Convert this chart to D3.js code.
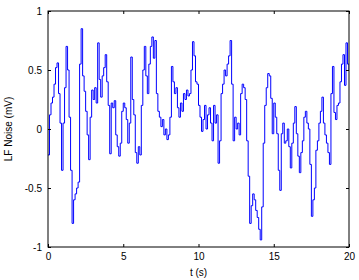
<!DOCTYPE html>
<html>
<head>
<meta charset="utf-8">
<script src="https://cdn.jsdelivr.net/npm/d3@7"></script>
<style>
  html, body { margin: 0; padding: 0; background: #fff; }
</style>
</head>
<body>
<div id="chart"></div>
<script>
const DT = 0.1;
const noise = [
  -0.22, 0.12, 0.22, 0.27, 0.38, 0.52, 0.56, 0.30, 0.05, -0.35,
  0.05, 0.35, 0.70, 0.50, 0.10, -0.35, -0.80, -0.60, -0.55, -0.50,
  -0.45, 0.55, 0.85, 0.45, 0.32, 0.15, -0.05, -0.26, 0.10, 0.33,
  0.25, 0.35, 0.22, 0.73, 0.42, 0.27, 0.45, 0.52, 0.63, 0.40,
  0.20, -0.21, 0.22, 0.18, 0.24, -0.05, -0.15, -0.23, -0.12, 0.15,
  0.22, 0.18, 0.08, -0.12, 0.05, 0.61, 0.25, 0.12, -0.20, -0.29,
  -0.15, -0.22, 0.20, 0.50, 0.70, 0.45, 0.30, 0.55, 0.70, 0.78,
  0.60, 0.75, 0.30, 0.15, 0.10, 0.02, 0.08, -0.05, 0.00, -0.09,
  -0.05, 0.10, 0.53, 0.40, 0.30, 0.35, 0.18, 0.10, 0.22, 0.15,
  0.30, 0.25, 0.33, 0.28, 0.30, 0.50, 0.74, 0.62, 0.40, 0.38,
  0.20, 0.10, -0.02, 0.08, 0.20, 0.00, 0.12, 0.18, 0.05, -0.10,
  0.20, 0.05, 0.12, -0.29, -0.10, 0.30, 0.38, 0.50, 0.45, 0.55,
  0.62, 0.75, 0.38, -0.10, 0.10, 0.00, 0.05, -0.05, 0.30, 0.38,
  0.35, 0.25, -0.10, -0.40, -0.80, -0.65, -0.55, -0.60, -0.69, -0.75,
  -0.85, -0.94, -0.66, -0.12, 0.20, 0.35, 0.47, 0.45, 0.26, -0.04,
  0.22, 0.10, -0.04, -0.35, -0.52, -0.04, 0.05, -0.12, -0.10, 0.00,
  -0.15, -0.33, -0.12, 0.05, 0.19, -0.04, -0.23, -0.37, -0.20, -0.10,
  0.10, 0.15, 0.05, 0.00, -0.30, -0.74, -0.60, -0.50, -0.18, -0.10,
  0.05, 0.15, 0.27, 0.05, -0.05, -0.12, -0.20, -0.30, 0.30, 0.53,
  0.14, 0.08, 0.20, 0.22, 0.40, 0.55, 0.63, 0.37, 0.73, 0.55,
  0.50
];
const xTicks = [0, 5, 10, 15, 20];
const yTicks = [-1, -0.5, 0, 0.5, 1];

const W = 359, H = 280;
const margin = { top: 11, right: 10, bottom: 33, left: 48 };
const w = W - margin.left - margin.right;
const h = H - margin.top - margin.bottom;

const svg = d3.select("#chart").append("svg")
  .attr("width", W).attr("height", H)
  .style("font-family", "'Liberation Sans', Arial, sans-serif");

const g = svg.append("g").attr("transform", `translate(${margin.left},${margin.top})`);

const x = d3.scaleLinear().domain([0, 20]).range([0, w]);
const y = d3.scaleLinear().domain([-1, 1]).range([h, 0]);

const pts = noise.map((v, i) => ({ t: i * DT, v }));

g.append("defs").append("clipPath").attr("id", "clip")
  .append("rect").attr("width", w).attr("height", h);

const line = d3.line().x(d => x(d.t)).y(d => y(d.v)).curve(d3.curveStepAfter);
g.append("path").datum(pts)
  .attr("clip-path", "url(#clip)")
  .attr("fill", "none").attr("stroke", "#0000ff").attr("stroke-width", 1)
  .attr("d", line);

// MATLAB-ish axes: ticks pointing inward, on all four sides
const fmt = d => String(d);
g.append("g").attr("transform", `translate(0,${h})`)
  .call(d3.axisBottom(x).tickValues(xTicks).tickFormat(fmt).tickSizeInner(-3).tickSizeOuter(0).tickPadding(6))
  .call(a => a.select(".domain").remove());
g.append("g")
  .call(d3.axisTop(x).tickValues(xTicks).tickFormat("").tickSizeInner(-3).tickSizeOuter(0))
  .call(a => a.select(".domain").remove());
g.append("g")
  .call(d3.axisLeft(y).tickValues(yTicks).tickFormat(fmt).tickSizeInner(-3).tickSizeOuter(0).tickPadding(6))
  .call(a => a.select(".domain").remove());
g.append("g").attr("transform", `translate(${w},0)`)
  .call(d3.axisRight(y).tickValues(yTicks).tickFormat("").tickSizeInner(-3).tickSizeOuter(0))
  .call(a => a.select(".domain").remove());

g.selectAll(".tick text").style("font-size", "10px").attr("fill", "#000");
g.selectAll(".tick line").attr("stroke", "#000");

g.append("rect").attr("width", w).attr("height", h)
  .attr("fill", "none").attr("stroke", "#000").attr("stroke-width", 1);

svg.append("text").attr("x", margin.left + w / 2).attr("y", 276)
  .attr("text-anchor", "middle").style("font-size", "10px").text("t (s)");

svg.append("text").attr("transform", `translate(12,${margin.top + h / 2}) rotate(-90)`)
  .attr("text-anchor", "middle").style("font-size", "10px").text("LF Noise (mV)");
</script>
</body>
</html>
